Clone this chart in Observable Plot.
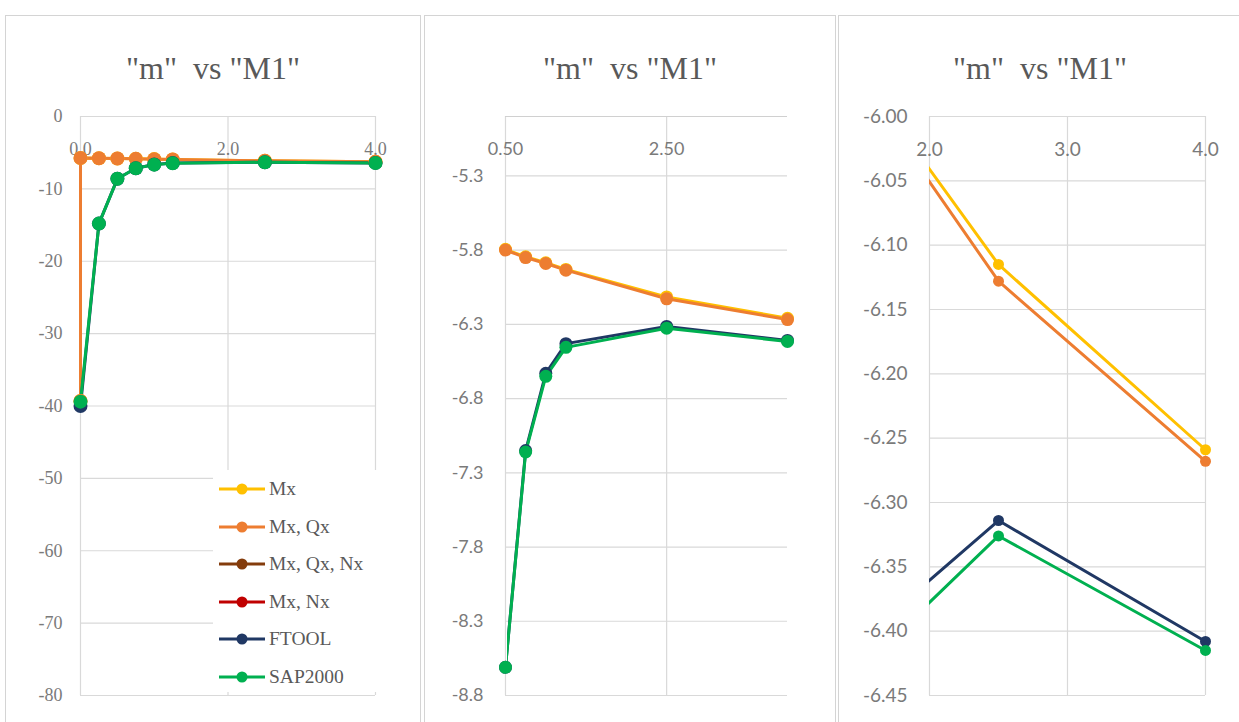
<!DOCTYPE html>
<html><head><meta charset="utf-8">
<script src="https://cdn.jsdelivr.net/npm/d3@7"></script>
<script src="https://cdn.jsdelivr.net/npm/@observablehq/plot@0.6"></script>
<style>
body{margin:0;background:#fff;}
#wrap{position:relative;width:1239px;height:722px;overflow:hidden;background:#fff;}
.panel{position:absolute;top:15px;height:730px;border:1.5px solid #d4d4d4;box-sizing:border-box;background:#fff;}
.title{position:absolute;top:52px;font-family:"Liberation Serif",serif;font-size:32px;color:#595959;white-space:pre;transform:translateX(-50%);line-height:1;}
.chart{position:absolute;top:100px;}
#legend{position:absolute;left:213px;top:470px;width:165px;height:222px;background:#fff;}
.lg{position:absolute;left:6px;height:22px;display:flex;align-items:center;font-family:"Liberation Serif",serif;font-size:19.5px;color:#595959;white-space:nowrap;}
.lg svg{margin-right:4px;}
</style></head><body><div id="wrap"></div>
<script>
// ---- data ----
const seriesNames = ["Mx", "Mx, Qx", "Mx, Qx, Nx", "Mx, Nx", "FTOOL", "SAP2000"];
const seriesColors = ["#FFC000", "#ED7D31", "#843C0C", "#C00000", "#203864", "#00B050"];
const M1 = [0, 0.25, 0.5, 0.75, 1.0, 1.25, 2.5, 4.0];
const M1withSupport = [0, 0, 0.25, 0.5, 0.75, 1.0, 1.25, 2.5, 4.0];
const mxValues = [-39.3, -5.735, -5.765, -5.795, -5.845, -5.885, -5.93, -6.115, -6.259];
const mxQxValues = [-39.3, -5.74, -5.77, -5.80, -5.85, -5.89, -5.935, -6.128, -6.268];
const ftoolValues = [-40.0, -14.8, -8.61, -7.15, -6.63, -6.43, -6.314, -6.408];
const sap2000Values = [-39.4, -14.8, -8.61, -7.16, -6.65, -6.455, -6.326, -6.415];

const titleText = '"m"  vs "M1"';
const p1XTicks = [0, 2, 4];
const p1YTicks = [0, -10, -20, -30, -40, -50, -60, -70, -80];
const p2XTicks = [0.5, 2.5];
const p2YTicks = [-5.3, -5.8, -6.3, -6.8, -7.3, -7.8, -8.3, -8.8];
const p3XTicks = [2, 3, 4];
const p3YTicks = [-6.00, -6.05, -6.10, -6.15, -6.20, -6.25, -6.30, -6.35, -6.40, -6.45];

const seriesData = [
  {name: "Mx", x: M1withSupport, y: mxValues},
  {name: "Mx, Qx", x: M1withSupport, y: mxQxValues},
  {name: "FTOOL", x: M1, y: ftoolValues},
  {name: "SAP2000", x: M1, y: sap2000Values}
];
const rowsBySeries = seriesData.map(s => s.x.map((x, i) => ({x, y: s.y[i], s: s.name})));

// ---- layout ----
const wrap = document.getElementById("wrap");
const serif = '"Liberation Serif", serif';
const sans = 'Lato, "Open Sans", sans-serif';
const panels = [
  {left: 5, width: 416, svgLeft: 6, w: 413, ml: 74, mr: 44, xDomain: [0, 4], yDomain: [-80, 0],
   xTicks: p1XTicks, yTicks: p1YTicks, xFmt: d => d.toFixed(1), yFmt: d => String(d),
   font: serif, fs: 18, yPad: 18, xDy: 47, r: 7, sw: 3, clipCss: null, titleX: 213, topRule: false},
  {left: 424, width: 412, svgLeft: 425, w: 409, ml: 80, mr: 47, xDomain: [0.5, 4.0], yDomain: [-8.8, -4.9],
   xTicks: p2XTicks, yTicks: p2YTicks, xFmt: d => d.toFixed(2), yFmt: d => d.toFixed(1),
   font: sans, fs: 18, yPad: 22, xDy: 47, r: 6.5, sw: 3, clipCss: "inset(16px 40px 27px 82px)", titleX: 630, topRule: true},
  {left: 838, width: 420, svgLeft: 839, w: 400, ml: 90, mr: 34, xDomain: [2, 4], yDomain: [-6.45, -6.00],
   xTicks: p3XTicks, yTicks: p3YTicks, xFmt: d => d.toFixed(1), yFmt: d => d.toFixed(2),
   font: sans, fs: 19, yPad: 22, xDy: 48, r: 5.5, sw: 3, clipCss: "inset(16px 30px 27px 90px)", titleX: 1040, topRule: false}
];

const grid = "#d9d9d9";
const textColor = "#7a7a7a";
panels.forEach(p => {
  const box = document.createElement("div");
  box.className = "panel";
  box.style.left = p.left + "px";
  box.style.width = p.width + "px";
  wrap.appendChild(box);

  const t = document.createElement("div");
  t.className = "title";
  t.style.left = p.titleX + "px";
  t.textContent = titleText;
  wrap.appendChild(t);

  const base = {
    width: p.w, height: 622,
    marginLeft: p.ml, marginRight: p.mr, marginTop: 16, marginBottom: 27,
    x: {domain: p.xDomain, axis: null},
    y: {domain: p.yDomain, axis: null},
    color: {domain: seriesNames, range: seriesColors},
    style: {fontFamily: p.font, fontSize: p.fs + "px", color: textColor, background: "transparent", overflow: "visible"}
  };
  const place = (svg, clip) => {
    svg.classList.add("chart");
    svg.style.left = p.svgLeft + "px";
    if (clip) svg.style.clipPath = clip;
    wrap.appendChild(svg);
  };

  // layer A: grid + axes
  place(Plot.plot({
    ...base,
    marks: [
      Plot.gridY(p.yTicks, {stroke: grid, strokeOpacity: 1, strokeWidth: 1.2}),
      Plot.gridX(p.xTicks, {stroke: grid, strokeOpacity: 1, strokeWidth: 1.2}),
      p.topRule ? Plot.ruleY([p.yDomain[1]], {stroke: "#d0d0d0", strokeWidth: 1.2}) : null,
      Plot.axisY(p.yTicks, {anchor: "left", label: null, tickSize: 0, tickPadding: p.yPad, tickFormat: p.yFmt,
        fontFamily: p.font, fontSize: p.fs, fill: textColor}),
      Plot.axisX(p.xTicks, {anchor: "top", label: null, tickSize: 0, tickFormat: p.xFmt, dy: p.xDy,
        fontFamily: p.font, fontSize: p.fs, fill: textColor})
    ]
  }));

  // layer B: series lines (clipped to the plot area)
  place(Plot.plot({
    ...base,
    marks: rowsBySeries.map(rows => Plot.line(rows, {x: "x", y: "y", stroke: "s", strokeWidth: p.sw}))
  }), p.clipCss);

  // layer C: markers inside the plot area
  const inDomain = d => d.x >= p.xDomain[0] && d.x <= p.xDomain[1] && d.y >= p.yDomain[0] && d.y <= p.yDomain[1];
  place(Plot.plot({
    ...base,
    marks: rowsBySeries.map(rows => Plot.dot(rows.filter(inDomain), {x: "x", y: "y", fill: "s", r: p.r}))
  }));
});

// legend (panel 1)
const legend = document.createElement("div");
legend.id = "legend";
seriesNames.forEach((name, i) => {
  const row = document.createElement("div");
  row.className = "lg";
  row.style.top = (8 + i * 37.6) + "px";
  const c = seriesColors[i];
  row.innerHTML = `<svg width="46" height="16"><line x1="0" x2="46" y1="8" y2="8" stroke="${c}" stroke-width="3"/><circle cx="23" cy="8" r="5.5" fill="${c}"/></svg><span>${name}</span>`;
  legend.appendChild(row);
});
wrap.appendChild(legend);
</script>
</body></html>
